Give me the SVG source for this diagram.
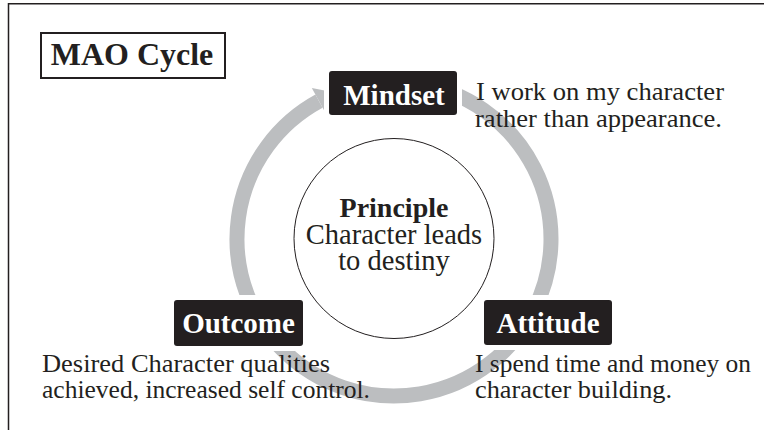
<svg xmlns="http://www.w3.org/2000/svg" width="764" height="430" viewBox="0 0 764 430">
  <style>
    .t { font-family: "Liberation Serif", "Times New Roman", serif; fill: #231f20; }
    .desc { font-size: 26px; }
    .lbl { font-family: "Liberation Serif", "Times New Roman", serif; font-weight: bold; font-size: 29px; fill: #ffffff; text-anchor: middle; }
    .box { fill: #231f20; stroke: #ffffff; stroke-width: 10; paint-order: stroke; }
    .ring { fill: none; stroke: #bcbec0; stroke-width: 15; }
  </style>
  <rect width="764" height="430" fill="#ffffff"/>
  <path d="M8.5,430 V3.75 H764" fill="none" stroke="#231f20" stroke-width="1.5"/>

  <g id="title">
    <rect x="41" y="33" width="184" height="45" fill="#ffffff" stroke="#231f20" stroke-width="2"/>
    <text class="t" x="132" y="65" font-size="32" font-weight="bold" text-anchor="middle">MAO Cycle</text>
  </g>

  <g id="connectors">
    <path class="ring" d="M420,84.2 A157,157 0 1 1 319,101.1"/>
    <polygon points="311.8,88 334.8,92.5 326.2,114.3" fill="#bcbec0"/>
  </g>

  <g id="principle">
    <circle cx="394" cy="238.5" r="100" fill="#ffffff" stroke="#231f20" stroke-width="1"/>
    <text class="t" x="394" y="217" font-size="28" font-weight="bold" text-anchor="middle">Principle</text>
    <text class="t" x="394" y="244" font-size="28.5" text-anchor="middle">Character leads</text>
    <text class="t" x="394" y="270" font-size="28.5" text-anchor="middle">to destiny</text>
  </g>

  <g id="mindset">
    <rect class="box" x="329" y="71" width="128" height="44" rx="3"/>
    <text class="lbl" x="394" y="105">Mindset</text>
    <text class="t desc" x="476" y="100" textLength="248" lengthAdjust="spacingAndGlyphs">I work on my character</text>
    <text class="t desc" x="475" y="127" textLength="247" lengthAdjust="spacingAndGlyphs">rather than appearance.</text>
  </g>

  <g id="attitude">
    <rect class="box" x="484" y="300" width="128" height="45" rx="3"/>
    <text class="lbl" x="548" y="333">Attitude</text>
    <text class="t desc" x="475" y="372" textLength="276" lengthAdjust="spacingAndGlyphs">I spend time and money on</text>
    <text class="t desc" x="475" y="398" textLength="197" lengthAdjust="spacingAndGlyphs">character building.</text>
  </g>

  <g id="outcome">
    <rect class="box" x="174" y="300" width="129" height="46" rx="3"/>
    <text class="lbl" x="238.5" y="333">Outcome</text>
    <text class="t desc" x="42" y="372" textLength="288" lengthAdjust="spacingAndGlyphs">Desired Character qualities</text>
    <text class="t desc" x="42" y="398" textLength="328" lengthAdjust="spacingAndGlyphs">achieved, increased self control.</text>
  </g>
</svg>
